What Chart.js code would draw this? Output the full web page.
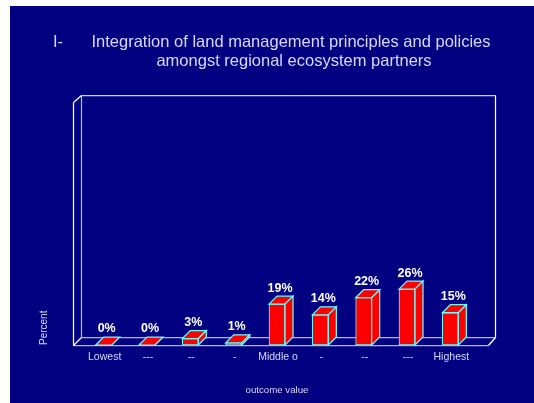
<!DOCTYPE html>
<html>
<head>
<meta charset="utf-8">
<script src="https://cdn.jsdelivr.net/npm/chart.js@4"></script>
<style>
    body { margin: 0; background: #fff; }
    #frame { position: absolute; left: 10px; top: 6px; width: 524px; height: 397px; background: #000080; }
    #chart { position: absolute; left: 0; top: 0; }
</style>
</head>
<body>
<div id="frame"></div>
<canvas id="chart" width="534" height="403"></canvas>
<script>
const categories = ['Lowest', '---', '--', '-', 'Middle o', '-', '--', '---', 'Highest'];
const percents = [0, 0, 3, 1, 19, 14, 22, 26, 15];
const titleLines = ['Integration of land management principles and policies', 'amongst regional ecosystem partners'];
const titlePrefix = 'I-';
const yTitle = 'Percent';
const xTitle = 'outcome value';

const FONT = '"Liberation Sans", Arial, sans-serif';
const TEXT = '#d8d8ff';
const DEPTH = 8;

function line(ctx, x1, y1, x2, y2, color) {
    ctx.strokeStyle = color;
    ctx.beginPath();
    ctx.moveTo(x1 + .5, y1 + .5);
    ctx.lineTo(x2 + .5, y2 + .5);
    ctx.stroke();
}

function face(ctx, points) {
    ctx.beginPath();
    points.forEach((p, i) => i ? ctx.lineTo(p[0], p[1]) : ctx.moveTo(p[0], p[1]));
    ctx.closePath();
    ctx.fill();
    ctx.stroke();
}

// titles and the box walls behind the bars
const backdrop = {
    id: 'backdrop',
    beforeDatasetsDraw(chart) {
        const { ctx, chartArea: a } = chart;
        const left = a.left - 9, right = a.right + 16, top = a.top, floor = a.bottom;
        ctx.save();
        ctx.lineWidth = 1.25;
        line(ctx, left + DEPTH, top - 7, left + DEPTH, floor - DEPTH, '#b4b4e6');
        line(ctx, left + DEPTH, top - 7, right + 7, top - 7, '#d0d0f4');
        line(ctx, left + DEPTH, floor - DEPTH, right + 7, floor - DEPTH, '#b4b4e6');
        line(ctx, left, floor, right, floor, '#b4b4e6');
        line(ctx, left, top, left, floor, '#ffffff');
        line(ctx, left, top, left + DEPTH, top - 7, '#ffffff');
        line(ctx, right + 7, top - 7, right + 7, floor - DEPTH, '#ffffff');
        line(ctx, left, floor, left + DEPTH, floor - DEPTH, '#ffffff');
        line(ctx, right, floor, right + 7, floor - DEPTH, '#ffffff');

        ctx.fillStyle = TEXT;
        ctx.font = '16.5px ' + FONT;
        ctx.textBaseline = 'middle';
        ctx.textAlign = 'left';
        ctx.fillText(titlePrefix, 53, 42);
        ctx.textAlign = 'center';
        ctx.fillText(titleLines[0], 291, 42);
        ctx.fillText(titleLines[1], 294, 61);
        ctx.restore();
    },
};

// top and side faces of the bars, then the value labels
const bars3d = {
    id: 'bars3d',
    afterDatasetsDraw(chart) {
        const { ctx } = chart;
        const meta = chart.getDatasetMeta(0);
        ctx.save();
        ctx.lineWidth = 1.25;
        ctx.fillStyle = '#ff0000';
        ctx.strokeStyle = '#66ffff';
        meta.data.forEach((bar) => {
            const l = bar.x - bar.width / 2, r = bar.x + bar.width / 2;
            face(ctx, [[l, bar.y], [l + DEPTH, bar.y - DEPTH], [r + DEPTH, bar.y - DEPTH], [r, bar.y]]);
            if (bar.base - bar.y > 0) {
                face(ctx, [[r, bar.y], [r + DEPTH, bar.y - DEPTH], [r + DEPTH, bar.base - DEPTH], [r, bar.base]]);
            }
        });
        ctx.fillStyle = '#ffffff';
        ctx.font = 'bold 12.5px ' + FONT;
        ctx.textAlign = 'center';
        ctx.textBaseline = 'middle';
        meta.data.forEach((bar, i) => {
            ctx.fillText(percents[i] + '%', bar.x + 3, bar.y - DEPTH - 8);
        });
        ctx.restore();
    },
};

new Chart(document.getElementById('chart').getContext('2d'), {
    type: 'bar',
    data: {
        labels: categories,
        datasets: [{
            data: percents,
            backgroundColor: '#ff0000',
            borderColor: '#66ffff',
            borderWidth: 1,
            borderSkipped: false,
            barThickness: 16,
        }],
    },
    plugins: [backdrop, bars3d],
    options: {
        responsive: false,
        animation: false,
        layout: {
            padding: { left: 38, right: 62, top: 102, bottom: 7 },
        },
        plugins: {
            legend: { display: false },
            tooltip: { enabled: false },
        },
        scales: {
            x: {
                grid: { display: false, drawTicks: false },
                border: { display: false },
                ticks: {
                    color: TEXT,
                    font: { family: FONT, size: 10.5 },
                    padding: 6,
                    labelOffset: 1,
                    maxRotation: 0,
                    autoSkip: false,
                },
                title: {
                    display: true,
                    text: xTitle,
                    color: TEXT,
                    font: { family: FONT, size: 9.7 },
                    padding: { top: 17, bottom: 0 },
                },
                afterFit(scale) { scale.height = 51; },
            },
            y: {
                min: 0,
                max: 113,
                grid: { display: false },
                border: { display: false },
                ticks: { display: false },
                title: {
                    display: true,
                    text: yTitle,
                    align: 'start',
                    color: TEXT,
                    font: { family: FONT, size: 10 },
                    padding: 0,
                },
                afterFit(scale) { scale.width = 44; },
            },
        },
    },
});
</script>
</body>
</html>
